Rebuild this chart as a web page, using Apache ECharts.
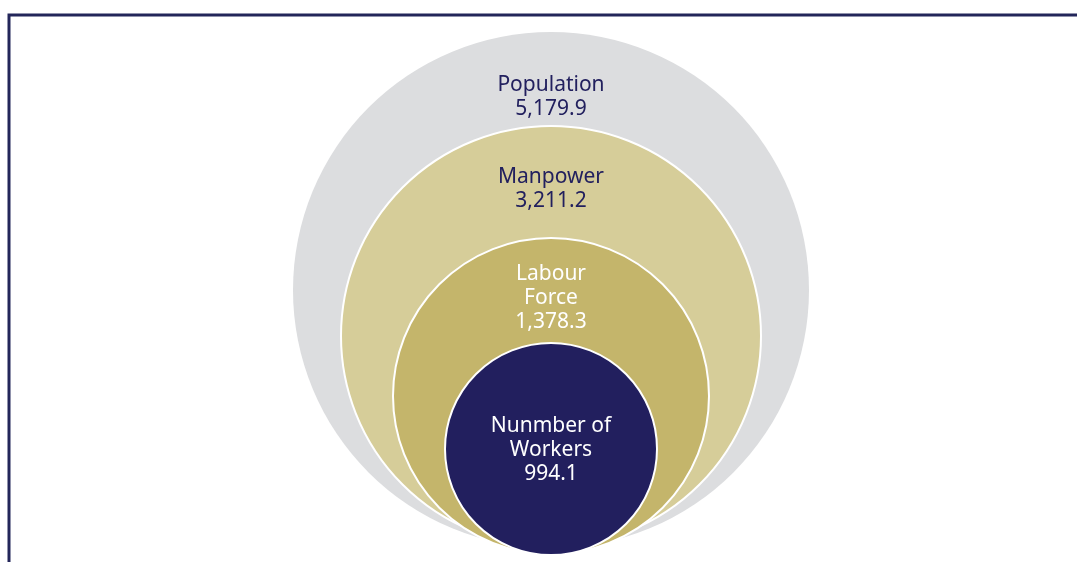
<!DOCTYPE html>
<html>
<head>
<meta charset="utf-8">
<script src="https://cdn.jsdelivr.net/npm/echarts@6/dist/echarts.min.js"></script>
<style>
  html, body { margin: 0; padding: 0; background: #fff; }
  #chart { width: 1077px; height: 562px; }
</style>
</head>
<body>
<div id="chart"></div>
<script>
// nested circles, outer -> inner
var names = ["Population", "Manpower", "Labour\nForce", "Nunmber of\nWorkers"];
var values = [5179.9, 3211.2, 1378.3, 994.1];

var fills = ["#dcdddf", "#d6cd99", "#c4b56b", "#221f5e"];
var textColors = ["#22205e", "#22205e", "#ffffff", "#ffffff"];
var radii = [258, 210, 158, 106];
var centersY = [290, 336, 396, 449];
var labelShift = [-193, -147, -98, 1];

var chart = echarts.init(document.getElementById("chart"));

function fmt(v) {
  return v.toLocaleString("en-US", { minimumFractionDigits: 1, maximumFractionDigits: 1 });
}

var series = names.map(function (n, i) {
  return {
    type: "pie",
    silent: true,
    center: [551, centersY[i]],
    radius: [0, radii[i]],
    z: 2 + i,
    itemStyle: {
      color: fills[i],
      borderColor: i === 0 ? fills[i] : "#ffffff",
      borderWidth: i === 0 ? 0 : 2
    },
    label: {
      show: true,
      position: "center",
      formatter: function (p) { return p.name + "\n" + fmt(p.value); },
      color: textColors[i],
      fontFamily: "Noto Sans",
      fontSize: 21,
      lineHeight: 24,
      align: "center"
    },
    labelLine: { show: false },
    labelLayout: { dy: labelShift[i] },
    data: [{ name: n, value: values[i] }]
  };
});

chart.setOption({
  animation: false,
  backgroundColor: "#ffffff",
  graphic: [{
    type: "polyline",
    shape: { points: [[9, 562], [9, 15], [1077, 15]] },
    style: { stroke: "#23265a", lineWidth: 3, fill: null }
  }],
  series: series
});
</script>
</body>
</html>
